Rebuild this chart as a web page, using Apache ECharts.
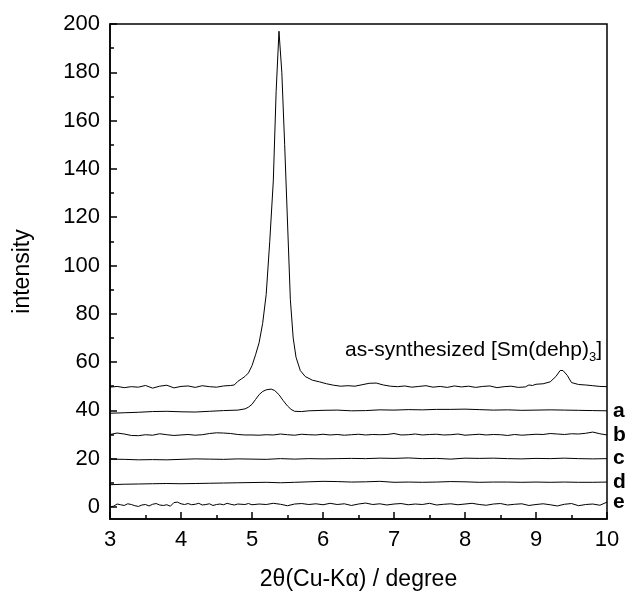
<!DOCTYPE html>
<html>
<head>
<meta charset="utf-8">
<script src="https://cdn.jsdelivr.net/npm/echarts@6/dist/echarts.min.js"></script>
<style>html,body{margin:0;padding:0;background:#fff}#c{width:632px;height:596px}</style>
</head>
<body>
<div id="c"></div>
<script>
// ---- data ----
var xTop = [3.0,3.1,3.2,3.3,3.4,3.5,3.6,3.7,3.8,3.9,4.0,4.1,4.2,4.3,4.4,4.5,4.6,4.7,4.75,4.8,4.85,4.9,4.95,5.0,5.05,5.1,5.15,5.2,5.25,5.3,5.34,5.38,5.42,5.46,5.5,5.54,5.58,5.62,5.68,5.75,5.85,5.95,6.05,6.15,6.25,6.35,6.45,6.55,6.65,6.75,6.85,6.95,7.05,7.15,7.25,7.35,7.45,7.55,7.65,7.75,7.85,7.95,8.05,8.15,8.25,8.35,8.45,8.55,8.65,8.75,8.85,8.9,8.95,9.0,9.1,9.2,9.28,9.34,9.38,9.44,9.5,9.6,9.7,9.8,9.9,10.0];
var yTop = [49.6,49.9,49.4,49.8,49.6,50.3,49.2,50.0,50.4,49.3,49.9,50.1,49.5,50.2,49.8,49.6,50.1,50.3,50.5,52.0,53.0,54.0,55.5,58.5,63,68,76,88,110,135,172,197,180,150,118,86,70,62,56.5,54,52.5,51.8,51.0,50.4,50.0,50.2,50.0,50.6,51.2,51.3,50.5,50.0,49.8,50.1,49.6,49.9,50.2,49.6,49.9,49.5,50.1,49.7,50.0,49.5,49.9,50.1,49.4,49.8,50.0,49.5,49.7,50.5,50.3,50.8,51.0,51.8,54.0,56.5,56.5,54.5,51.5,50.7,50.5,50.2,49.9,49.8];

var xA = [3.0,3.2,3.4,3.6,3.8,4.0,4.2,4.4,4.6,4.8,4.9,4.95,5.0,5.05,5.1,5.15,5.2,5.27,5.32,5.38,5.44,5.5,5.55,5.6,5.7,5.8,6.0,6.2,6.4,6.6,6.8,7.0,7.2,7.4,7.6,7.8,8.0,8.2,8.4,8.6,8.8,9.0,9.2,9.4,9.6,9.8,10.0];
var yA = [38.8,39.0,39.2,39.5,39.6,39.4,39.3,39.6,39.9,40.1,40.6,41.3,42.5,44.5,46.5,47.8,48.5,48.8,48.2,46.5,44.0,41.8,40.4,39.6,39.5,39.8,40.0,40.1,39.8,39.9,40.2,40.1,40.3,40.2,40.4,40.4,40.5,40.3,40.1,40.2,40.0,40.1,40.2,40.1,40.0,39.9,39.8];

var xB = [3.0,3.1,3.2,3.3,3.4,3.5,3.6,3.7,3.8,3.9,4.0,4.1,4.2,4.3,4.4,4.5,4.6,4.7,4.8,4.9,5.0,5.1,5.2,5.3,5.4,5.5,5.6,5.7,5.8,5.9,6.0,6.1,6.2,6.3,6.4,6.5,6.6,6.7,6.8,6.9,7.0,7.1,7.2,7.3,7.4,7.5,7.6,7.7,7.8,7.9,8.0,8.1,8.2,8.3,8.4,8.5,8.6,8.7,8.8,8.9,9.0,9.1,9.2,9.3,9.4,9.5,9.6,9.7,9.8,9.9,10.0];
var yB = [30.0,30.6,30.2,29.6,29.5,29.9,29.7,30.3,29.9,29.6,29.8,30.0,29.7,29.9,30.4,30.7,30.6,30.4,30.0,29.8,29.8,29.7,29.9,29.8,30.2,29.9,29.7,30.1,29.9,29.8,30.1,29.8,30.0,29.7,29.9,30.1,29.8,30.0,29.9,30.0,30.4,29.8,29.9,30.2,29.8,30.0,30.1,29.8,29.9,30.2,29.7,29.9,30.1,29.8,30.0,29.9,29.6,30.0,29.7,29.9,30.1,30.0,30.4,30.2,30.0,30.3,30.2,30.5,31.0,30.3,29.8];

var xC = [3.0,3.2,3.4,3.6,3.8,4.0,4.2,4.4,4.6,4.8,5.0,5.2,5.4,5.6,5.8,6.0,6.2,6.4,6.6,6.8,7.0,7.2,7.4,7.6,7.8,8.0,8.2,8.4,8.6,8.8,9.0,9.2,9.4,9.6,9.8,10.0];
var yC = [19.8,19.7,19.5,19.6,19.5,19.7,19.9,19.8,19.7,19.9,19.8,19.7,20.0,19.8,20.0,19.9,20.0,20.1,20.0,20.2,20.1,20.3,20.0,20.1,19.8,20.2,20.1,20.2,20.0,19.9,20.1,20.0,20.2,20.0,19.9,20.0];

var xD = [3.0,3.2,3.4,3.6,3.8,4.0,4.2,4.4,4.6,4.8,5.0,5.2,5.4,5.6,5.8,6.0,6.2,6.4,6.6,6.8,7.0,7.2,7.4,7.6,7.8,8.0,8.2,8.4,8.6,8.8,9.0,9.2,9.4,9.6,9.8,10.0];
var yD = [9.2,9.4,9.5,9.6,9.7,9.6,9.7,9.8,9.9,10.0,10.1,10.2,10.0,10.2,10.4,10.6,10.5,10.3,10.4,10.6,10.2,10.3,10.2,10.3,10.5,10.4,10.2,10.3,10.3,10.2,10.3,10.2,10.3,10.2,10.2,10.3];

var xE = [3.0,3.05,3.1,3.15,3.2,3.25,3.3,3.35,3.4,3.45,3.5,3.55,3.6,3.65,3.7,3.75,3.8,3.85,3.9,3.95,4.0,4.05,4.1,4.15,4.2,4.25,4.3,4.35,4.4,4.45,4.5,4.55,4.6,4.65,4.7,4.75,4.8,4.9,4.95,5.0,5.1,5.2,5.3,5.4,5.5,5.6,5.7,5.8,5.9,6.0,6.1,6.2,6.3,6.4,6.5,6.6,6.7,6.8,6.9,7.0,7.1,7.2,7.3,7.4,7.5,7.6,7.7,7.8,7.9,8.0,8.1,8.2,8.3,8.4,8.5,8.6,8.7,8.8,8.9,9.0,9.1,9.2,9.3,9.4,9.5,9.6,9.7,9.8,9.9,10.0];
var yE = [0.0,0.3,1.2,0.9,0.6,1.3,1.0,0.5,0.2,0.8,1.0,0.4,1.1,1.4,0.8,0.6,0.9,0.3,1.8,2.0,1.3,1.0,1.4,0.9,1.1,1.5,0.8,1.0,1.3,0.6,1.0,1.2,0.9,1.5,1.1,0.8,1.2,1.0,1.4,0.9,1.2,1.0,1.5,1.1,0.5,1.2,1.4,1.0,1.3,0.9,1.5,1.0,1.3,0.6,1.2,1.6,1.0,1.3,0.8,1.2,1.4,0.9,1.2,1.0,1.5,0.8,1.1,1.3,0.9,1.2,1.5,1.0,0.7,1.2,1.4,0.8,1.1,1.3,0.6,1.0,1.3,0.9,0.4,1.1,1.4,0.5,1.0,1.2,0.7,2.0];

var yMajorTicks = [0,20,40,60,80,100,120,140,160,180,200];
var yMinorTicks = [10,30,50,70,90,110,130,150,170,190];
var curveNames = ['as-synthesized','a','b','c','d','e'];

function pairs(xs, ys){ return xs.map(function(x,i){ return [x, ys[i]]; }); }

var FONT = '"Liberation Sans", Arial, sans-serif';
var chart = echarts.init(document.getElementById('c'), null, {renderer:'canvas'});

function lineSeries(name, xs, ys, showEnd){
  return {
    type:'line', name:name, data: pairs(xs, ys), showSymbol:false, symbol:'none',
    lineStyle:{color:'#000', width:1}, animation:false, z:3,
    endLabel: showEnd ? {show:true, formatter: name, fontFamily:FONT, fontSize:21, fontWeight:'bold', color:'#000', distance:6} : {show:false}
  };
}

var option = {
  backgroundColor:'#fff',
  animation:false,
  grid:{left:110, right:25, top:24, bottom:76, show:true, borderColor:'#000', borderWidth:1.5, backgroundColor:'transparent'},
  xAxis:[{
    type:'value', min:3, max:10, interval:1,
    axisLine:{show:true, onZero:false, lineStyle:{color:'#000', width:1.5}},
    axisTick:{show:true, inside:true, length:7, lineStyle:{color:'#000', width:1.5}},
    minorTick:{show:true, splitNumber:2, length:4, lineStyle:{color:'#000', width:1.5}},
    splitLine:{show:false},
    axisLabel:{fontFamily:FONT, fontSize:22, color:'#000', margin:10},
    name:'2θ(Cu-Kα) / degree', nameLocation:'middle', nameGap:49,
    nameTextStyle:{fontFamily:FONT, fontSize:23, color:'#000'}
  }],
  yAxis:[{
    type:'value', min:-5, max:200,
    axisLine:{show:true, onZero:false, lineStyle:{color:'#000', width:1.5}},
    axisTick:{show:true, inside:true, length:7, customValues: yMajorTicks, lineStyle:{color:'#000', width:1.5}},
    splitLine:{show:false},
    axisLabel:{fontFamily:FONT, fontSize:22, color:'#000', margin:10, customValues: yMajorTicks},
    name:'intensity', nameLocation:'middle', nameGap:76,
    nameTextStyle:{fontFamily:FONT, fontSize:23, color:'#000'}
  },{
    type:'value', min:-5, max:200, position:'left',
    axisLine:{show:false, onZero:false},
    axisTick:{show:true, inside:true, length:4, customValues: yMinorTicks, lineStyle:{color:'#000', width:1.5}},
    axisLabel:{show:false, customValues: yMinorTicks},
    splitLine:{show:false}
  }],
  series:[
    lineSeries(curveNames[0], xTop, yTop, false),
    lineSeries(curveNames[1], xA, yA, true),
    lineSeries(curveNames[2], xB, yB, true),
    lineSeries(curveNames[3], xC, yC, true),
    lineSeries(curveNames[4], xD, yD, true),
    lineSeries(curveNames[5], xE, yE, true)
  ],
  graphic:[{
    type:'text', right:30, top:340, z:10,
    style:{
      text:'{t|as-synthesized [Sm(dehp)}{s|3}{t|]}',
      rich:{
        t:{fontFamily:FONT, fontSize:21, fill:'#000', lineHeight:26},
        s:{fontFamily:FONT, fontSize:13, fill:'#000', lineHeight:26, verticalAlign:'bottom', padding:[10,0,0,0]}
      }
    }
  }]
};
chart.setOption(option);
</script>
</body>
</html>
